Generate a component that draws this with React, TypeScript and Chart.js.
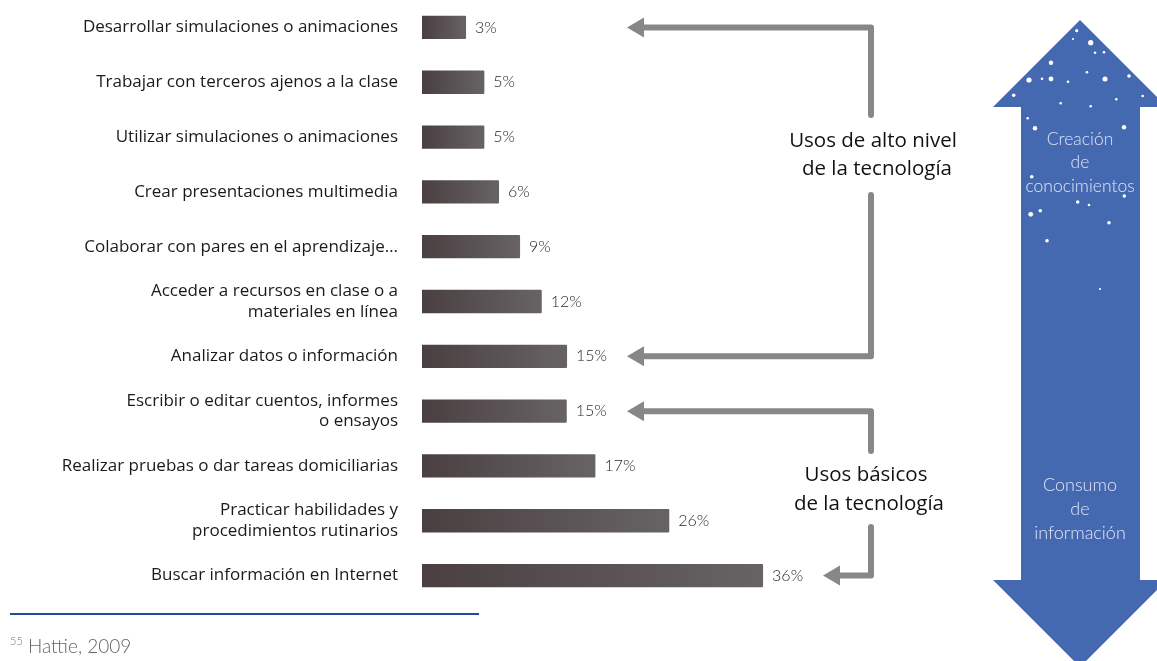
import { useEffect, useRef } from 'react';
import { Chart, registerables } from 'chart.js';

Chart.register(...registerables);

const FONT = 'Lato, "Gill Sans", "Noto Sans", sans-serif';
const LABEL_FONT = '"Open Sans", Lato, sans-serif';

const categories: (string | string[])[] = [
  'Desarrollar simulaciones o animaciones',
  'Trabajar con terceros ajenos a la clase',
  'Utilizar simulaciones o animaciones',
  'Crear presentaciones multimedia',
  'Colaborar con pares en el aprendizaje…',
  ['Acceder a recursos en clase o a', 'materiales en línea'],
  'Analizar datos o información',
  ['Escribir o editar cuentos, informes', 'o ensayos'],
  'Realizar pruebas o dar tareas domiciliarias',
  ['Practicar habilidades y', 'procedimientos rutinarios'],
  'Buscar información en Internet',
];

// bar lengths as drawn in the picture
const barValues = [4.65, 6.58, 6.58, 8.13, 10.35, 12.64, 15.31, 15.28, 18.3, 26.1, 36];
// printed value labels
const valueLabels = ['3%', '5%', '5%', '6%', '9%', '12%', '15%', '15%', '17%', '26%', '36%'];

const highUseTitle = ['Usos de alto nivel', 'de la tecnología'];
const basicUseTitle = ['Usos básicos', 'de la tecnología'];
const topArrowText = ['Creación', 'de', 'conocimientos'];
const bottomArrowText = ['Consumo', 'de', 'información'];
const footnoteMark = '55';
const footnoteText = 'Hattie, 2009';

// decorative dots on the blue arrow: [x, y, r]
const stars: number[][] = [
  [1076.7, 30.7, 1.6], [1073, 39, 1.1], [1090.7, 42.7, 2.6], [1095, 52.7, 1.3], [1104, 52.3, 1.3],
  [1051, 62.7, 2.2], [1087, 72.3, 1.3], [1029, 80, 2.6], [1042, 78.7, 1.3], [1051, 79, 2.4],
  [1068, 81.7, 1.3], [1105, 79, 2.5], [1129, 76, 1.8], [1013.7, 95.3, 1.8], [1142.7, 96, 1.3],
  [1060.7, 103.3, 1.3], [1090.7, 106.3, 1.3], [1116.3, 99.3, 1.3], [1027.7, 118.3, 1.3],
  [1035, 128.3, 2.2], [1124, 127.3, 2.2], [1031.7, 176.7, 1.8], [1124.3, 196, 1.8],
  [1077.7, 202, 1.8], [1089, 205, 1.3], [1030.7, 214.3, 2.4], [1040.3, 210.7, 1.8],
  [1109, 222.7, 1.8], [1047, 240.7, 1.8], [1100, 289, 1.1],
];

const GRAY = '#878787';
const BLUE = '#4469b1';

function elbow(ctx: CanvasRenderingContext2D, xv: number, yStart: number, yEnd: number, tipX: number) {
  ctx.save();
  ctx.strokeStyle = GRAY;
  ctx.fillStyle = GRAY;
  ctx.lineWidth = 6;
  ctx.lineCap = 'round';
  ctx.lineJoin = 'round';
  ctx.beginPath();
  ctx.moveTo(xv, yStart);
  ctx.lineTo(xv, yEnd);
  ctx.lineTo(tipX + 14, yEnd);
  ctx.stroke();
  ctx.beginPath();
  ctx.moveTo(tipX, yEnd);
  ctx.lineTo(tipX + 17, yEnd - 10);
  ctx.lineTo(tipX + 17, yEnd + 10);
  ctx.closePath();
  ctx.fill();
  ctx.restore();
}

const decorPlugin = {
  id: 'decor',
  afterDatasetsDraw(chart: any) {
    const ctx: CanvasRenderingContext2D = chart.ctx;
    const meta = chart.getDatasetMeta(0);
    ctx.save();
    ctx.font = `300 16px ${FONT}`;
    ctx.fillStyle = '#2b2b2b';
    ctx.textAlign = 'left';
    ctx.textBaseline = 'middle';
    meta.data.forEach((bar: any, i: number) => {
      ctx.fillText(valueLabels[i], bar.x + 9, bar.y);
    });
    ctx.restore();
  },
  afterDraw(chart: any) {
    const ctx: CanvasRenderingContext2D = chart.ctx;
    const ys = chart.scales.y;
    const yRow = (i: number) => ys.getPixelForValue(i);

    // grey elbow arrows
    elbow(ctx, 871, 115, yRow(0), 627);
    elbow(ctx, 871, 195, yRow(6), 627);
    elbow(ctx, 871, 451, yRow(7), 627);
    elbow(ctx, 871, 527, yRow(10), 823);

    ctx.save();
    ctx.fillStyle = '#111111';
    ctx.textAlign = 'center';
    ctx.textBaseline = 'middle';
    ctx.font = `400 20.5px ${LABEL_FONT}`;
    ctx.fillText(highUseTitle[0], 873, 141);
    ctx.fillText(highUseTitle[1], 877, 169);
    ctx.fillText(basicUseTitle[0], 866, 475);
    ctx.fillText(basicUseTitle[1], 869, 504);
    ctx.restore();

    // blue double arrow
    ctx.save();
    ctx.fillStyle = BLUE;
    ctx.beginPath();
    ctx.moveTo(1080, 20);
    ctx.lineTo(1167, 107);
    ctx.lineTo(1140, 107);
    ctx.lineTo(1140, 580);
    ctx.lineTo(1167, 580);
    ctx.lineTo(1080, 667);
    ctx.lineTo(993, 580);
    ctx.lineTo(1021, 580);
    ctx.lineTo(1021, 107);
    ctx.lineTo(993, 107);
    ctx.closePath();
    ctx.fill();
    ctx.fillStyle = '#ffffff';
    stars.forEach(([x, y, r]) => {
      ctx.beginPath();
      ctx.arc(x, y, r, 0, Math.PI * 2);
      ctx.fill();
    });
    ctx.fillStyle = '#dfe5f4';
    ctx.textAlign = 'center';
    ctx.textBaseline = 'middle';
    ctx.font = `300 17.5px ${FONT}`;
    [139, 162, 186].forEach((y, i) => ctx.fillText(topArrowText[i], 1080, y));
    ctx.font = `300 18px ${FONT}`;
    [485, 509, 533].forEach((y, i) => ctx.fillText(bottomArrowText[i], 1080, y));
    ctx.restore();

    // footnote
    ctx.save();
    ctx.strokeStyle = '#27479a';
    ctx.lineWidth = 2;
    ctx.beginPath();
    ctx.moveTo(10, 614);
    ctx.lineTo(479, 614);
    ctx.stroke();
    ctx.fillStyle = '#777777';
    ctx.textBaseline = 'alphabetic';
    ctx.textAlign = 'left';
    ctx.font = `300 11px ${FONT}`;
    ctx.fillText(footnoteMark, 10, 645);
    ctx.fillStyle = '#666666';
    ctx.font = `300 19px ${FONT}`;
    ctx.fillText(footnoteText, 28, 653);
    ctx.restore();
  },
};

export default function App() {
  const ref = useRef<HTMLCanvasElement>(null);
  useEffect(() => {
    document.body.style.margin = '0';
    const canvas = ref.current!;
    const chart = new Chart(canvas, {
      type: 'bar',
      data: {
        labels: categories as any,
        datasets: [
          {
            data: barValues,
            backgroundColor: (c: any) => {
              const ch = c.chart;
              const xs = ch.scales && ch.scales.x;
              if (!xs || c.type !== 'data' || xs.width == null) return '#575052';
              const x0 = xs.getPixelForValue(0);
              const x1 = xs.getPixelForValue(c.raw);
              if (!isFinite(x0) || !isFinite(x1) || x1 <= x0) return '#575052';
              const g = ch.ctx.createLinearGradient(x0, 0, x1, 0);
              g.addColorStop(0, '#4a3f41');
              g.addColorStop(1, '#676365');
              return g;
            },
            borderWidth: 0,
            borderRadius: 1,
            barPercentage: 0.425,
            categoryPercentage: 1,
          },
        ],
      },
      options: {
        indexAxis: 'y',
        responsive: false,
        animation: false,
        layout: { padding: { left: 0, right: 176, top: 0, bottom: 58 } },
        plugins: { legend: { display: false }, tooltip: { enabled: false } },
        scales: {
          x: { display: false, min: 0, max: 59 },
          y: {
            position: 'left',
            grid: { display: false, drawTicks: false },
            border: { display: false },
            ticks: {
              color: '#1a1a1a',
              padding: 24,
              crossAlign: 'near',
              autoSkip: false,
              font: { family: LABEL_FONT, size: 17, lineHeight: 1.2 },
            },
            afterFit(s: any) {
              s.width = 422;
              s.paddingTop = 0;
              s.paddingBottom = 0;
            },
          },
        },
      },
      plugins: [decorPlugin],
    });
    return () => chart.destroy();
  }, []);
  return (
    <div style={{ position: 'absolute', left: 0, top: 0, width: 1157, height: 661 }}>
      <canvas ref={ref} width={1157} height={661} style={{ display: 'block' }} />
    </div>
  );
}
